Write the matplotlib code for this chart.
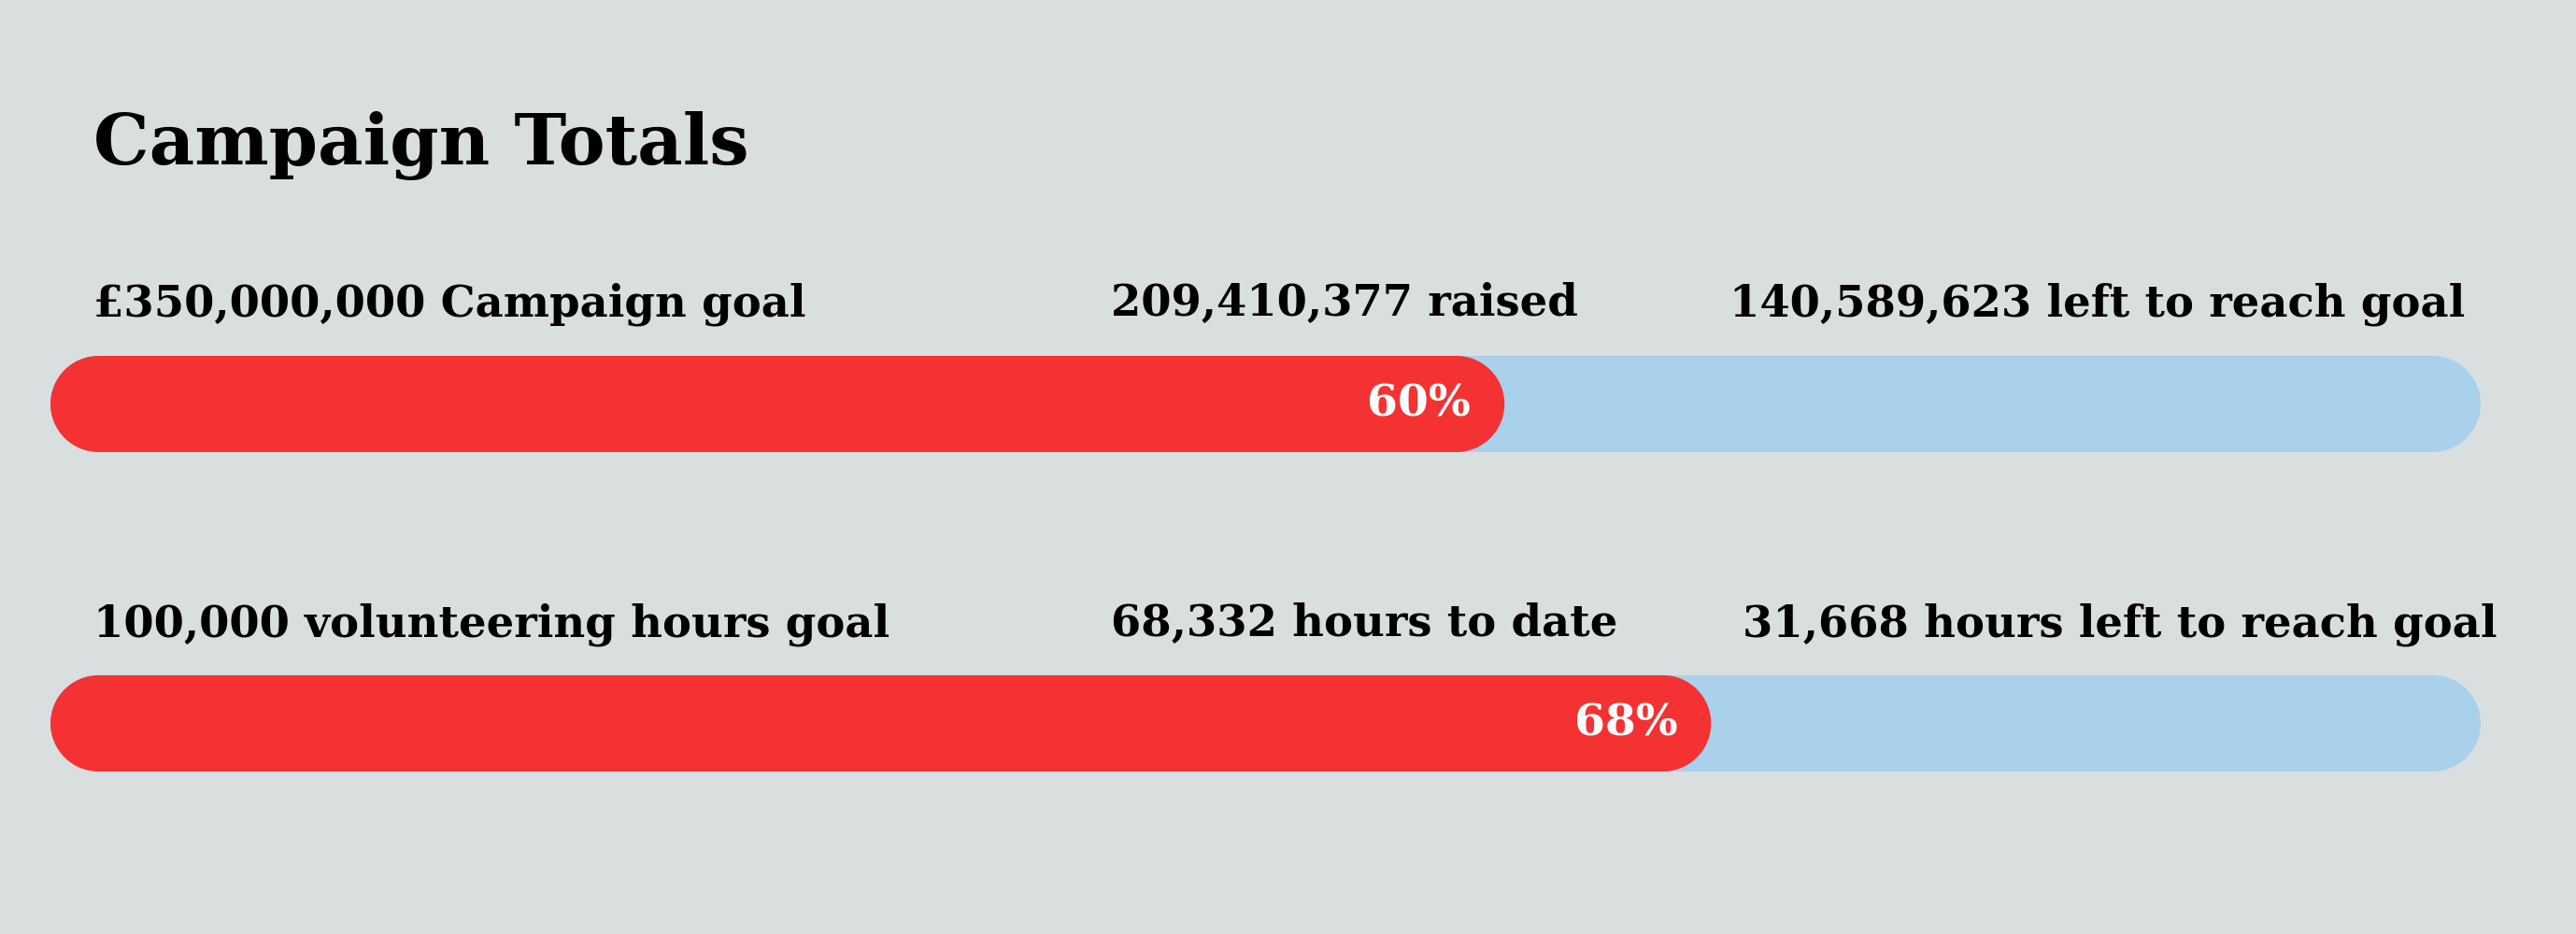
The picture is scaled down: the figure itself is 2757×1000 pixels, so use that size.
import matplotlib
matplotlib.use("Agg")
import matplotlib.pyplot as plt
from matplotlib.patches import Ellipse

# ---- data ----
title = "Campaign Totals"
goals = [350_000_000, 100_000]
achieved = [209_410_377, 68_332]
left_labels = ["£350,000,000 Campaign goal", "100,000 volunteering hours goal"]
mid_labels = ["209,410,377 raised", "68,332 hours to date"]
right_labels = ["140,589,623 left to reach goal", "31,668 hours left to reach goal"]
pct_labels = ["60%", "68%"]

# ---- style ----
W, H = 2757, 1000
BG = "#d9dfdf"
RED = "#f43233"
BLUE = "#aad1eb"
FONT = "DejaVu Serif"

fig = plt.figure(figsize=(W / 100, H / 100), dpi=100)
fig.patch.set_facecolor(BG)

def fx(px):
    return px / W

def fy(py):
    return 1 - py / H

fig.text(fx(100), fy(176), title, fontsize=54, fontweight="bold",
         family=FONT, color="black", ha="left", va="baseline")

bar_left, bar_width, bar_h = 54, 2601, 103
bar_tops = [381, 723]
label_baselines = [338, 681]
mid_x = [1189, 1189]
right_x = [1851, 1865]


def capsule(ax, val, r, color, z):
    # straight middle section via barh, round caps as circles (in pixels)
    ax.barh(0.5, max(val - 2 * r, 0), left=r, height=1.0, color=color,
            edgecolor="none", zorder=z)
    for cx in (r, val - r):
        ax.add_patch(Ellipse((cx, 0.5), 2 * r, 1.0, facecolor=color,
                             edgecolor="none", zorder=z))


for i in range(2):
    yb = label_baselines[i]
    kw = dict(fontsize=33.5, fontweight="bold", family=FONT, color="black",
              ha="left", va="baseline")
    fig.text(fx(100), fy(yb), left_labels[i], **kw)
    fig.text(fx(mid_x[i]), fy(yb), mid_labels[i], **kw)
    fig.text(fx(right_x[i]), fy(yb), right_labels[i], **kw)

    top = bar_tops[i]
    ax = fig.add_axes([fx(bar_left), fy(top + bar_h), bar_width / W, bar_h / H])
    ax.set_xlim(0, goals[i])
    ax.set_ylim(0, 1)
    ax.axis("off")
    r = goals[i] * (bar_h / 2) / bar_width  # half bar height, in data units
    capsule(ax, goals[i], r, BLUE, 1)
    capsule(ax, achieved[i], r, RED, 2)
    ax.annotate(pct_labels[i], xy=(achieved[i], 0.5), xytext=(-26, 0),
                textcoords="offset points", ha="right", va="center",
                fontsize=34, fontweight="bold", family=FONT, color="white",
                zorder=3)

fig.savefig("out.png", dpi=100, facecolor=BG)
